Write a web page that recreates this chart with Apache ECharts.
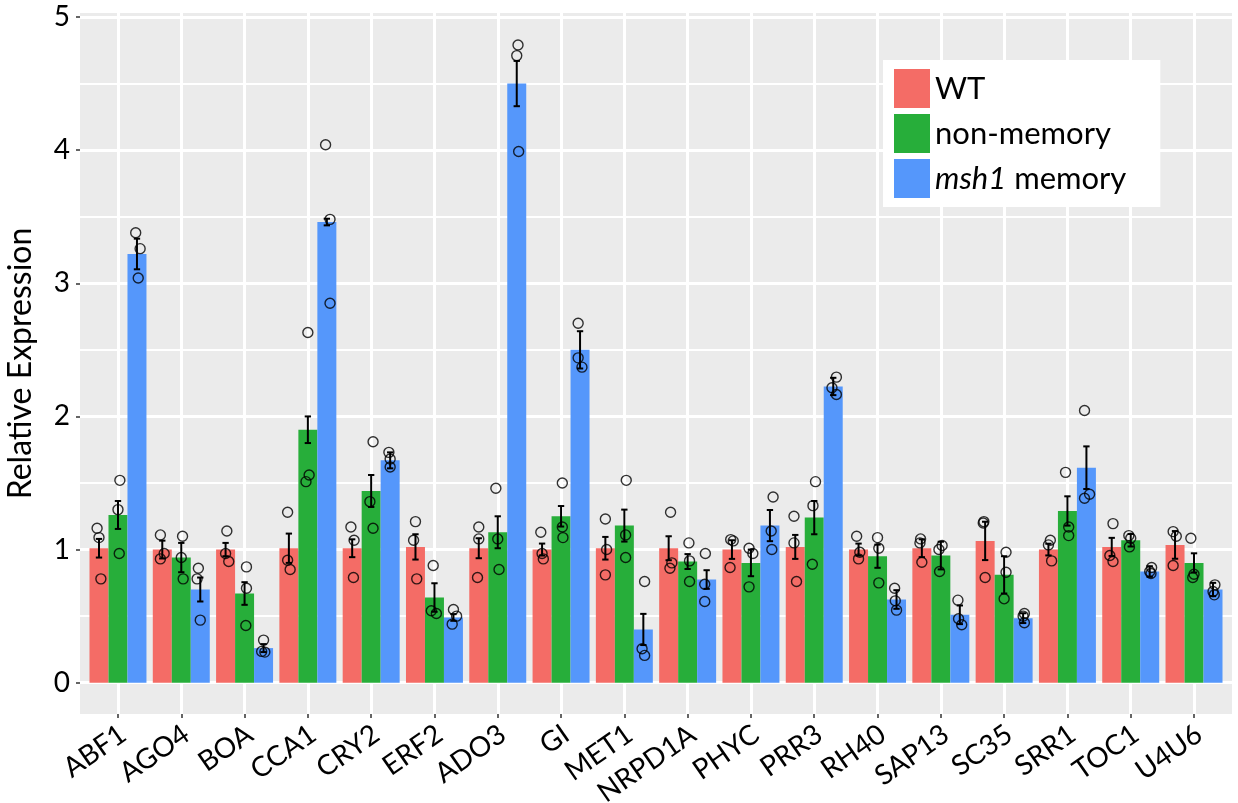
<!DOCTYPE html>
<html><head><meta charset="utf-8">
<script src="https://cdn.jsdelivr.net/npm/echarts@6/dist/echarts.min.js"></script>
<style>html,body{margin:0;padding:0;background:#fff}#c{width:1238px;height:803px}</style>
</head><body><div id="c"></div>
<script>
const categories = ['ABF1','AGO4','BOA','CCA1','CRY2','ERF2','ADO3','GI','MET1','NRPD1A','PHYC','PRR3','RH40','SAP13','SC35','SRR1','TOC1','U4U6'];
const seriesNames = ['WT','non-memory','msh1 memory'];
const yTickValues = [0,1,2,3,4,5];
const yMinorValues = [0.5,1.5,2.5,3.5,4.5];

const wtMean = [1.01,1.00,1.00,1.01,1.01,1.02,1.01,1.00,1.01,1.01,1.00,1.02,1.00,1.01,1.065,1.00,1.02,1.035];
const wtErr  = [0.07,0.067,0.05,0.11,0.067,0.095,0.075,0.045,0.085,0.09,0.07,0.09,0.045,0.067,0.144,0.044,0.068,0.104];
const wtPts = [[1.16,1.09,0.78],[1.11,0.97,0.93],[1.14,0.97,0.91],[1.28,0.92,0.85],[1.17,1.07,0.79],[1.21,1.07,0.78],
  [1.17,1.08,0.79],[1.13,0.97,0.93],[1.23,1.00,0.81],[1.28,0.90,0.86],[1.075,1.065,0.865],[1.25,1.05,0.76],
  [1.10,0.98,0.93],[1.08,1.05,0.905],[1.21,1.20,0.79],[1.07,1.035,0.915],[1.195,0.955,0.91],[1.135,1.10,0.88]];
const wtJit = [[-0.03,0,0.03],[-0.03,0.03,-0.03],[0.02,0,0.05],[-0.02,-0.02,0.02],[-0.02,0.03,0.02],[0,-0.03,0.02],
  [0,0,-0.02],[-0.02,0,0.02],[0,0.02,0],[0.03,0.05,0.02],[-0.02,0.02,-0.03],[-0.02,-0.02,0.02],
  [-0.03,0.02,0],[-0.02,-0.03,0],[-0.02,-0.03,0],[0.03,0,0.05],[0.02,-0.03,0.02],[-0.03,0.02,-0.03]];

const nmMean = [1.26,0.94,0.67,1.90,1.44,0.64,1.13,1.25,1.18,0.91,0.90,1.24,0.95,0.955,0.81,1.29,1.07,0.90];
const nmErr  = [0.105,0.11,0.085,0.10,0.12,0.107,0.12,0.077,0.12,0.056,0.10,0.125,0.087,0.104,0.14,0.11,0.047,0.072];
const nmPts = [[1.52,1.30,0.97],[1.10,0.94,0.78],[0.87,0.71,0.43],[2.63,1.56,1.51],[1.81,1.36,1.16],[0.88,0.54,0.52],
  [1.46,1.08,0.85],[1.50,1.17,1.09],[1.52,1.11,0.94],[1.05,0.915,0.76],[1.01,0.97,0.72],[1.51,1.33,0.89],
  [1.09,1.01,0.75],[1.03,1.00,0.835],[0.98,0.83,0.63],[1.58,1.17,1.105],[1.105,1.085,1.02],[1.085,0.815,0.79]];
const nmJit = [[0.03,0,0.02],[0.02,0,0.03],[0.03,0.03,0.02],[0,0.02,-0.03],[0.03,-0.02,0.03],[-0.02,-0.05,0.03],
  [-0.03,0,0.02],[0.02,0.02,0.03],[0.03,0.02,0.02],[0.02,0.03,0.03],[-0.03,0.03,-0.03],[0.02,-0.02,-0.03],
  [0,0.02,0.02],[0.02,-0.03,-0.02],[0.03,0.03,0],[-0.03,0.02,0.02],[-0.03,0,-0.02],[-0.05,0,-0.02]];

const mshMean = [3.22,0.70,0.26,3.46,1.67,0.49,4.50,2.50,0.40,0.775,1.18,2.225,0.625,0.51,0.485,1.615,0.835,0.70];
const mshErr  = [0.115,0.09,0.03,0.025,0.06,0.025,0.17,0.14,0.117,0.07,0.117,0.065,0.07,0.07,0.037,0.16,0.04,0.05];
const mshPts = [[3.38,3.26,3.04],[0.86,0.78,0.47],[0.32,0.235,0.23],[4.04,3.48,2.85],[1.73,1.68,1.62],[0.55,0.50,0.44],
  [4.79,4.71,3.99],[2.70,2.44,2.37],[0.76,0.255,0.205],[0.97,0.74,0.61],[1.395,1.14,1.00],[2.295,2.215,2.165],
  [0.71,0.615,0.545],[0.62,0.48,0.435],[0.52,0.50,0.45],[2.045,1.415,1.385],[0.865,0.835,0.82],[0.735,0.685,0.66]];
const mshJit = [[-0.02,0.05,0.02],[-0.03,-0.05,0],[0,-0.03,0.02],[-0.02,0.05,0.05],[-0.02,0,0],[0,0.05,-0.02],
  [0.02,0,0.03],[-0.03,-0.03,0.03],[0.02,-0.02,0.02],[-0.02,-0.03,-0.03],[0.05,0.02,0.03],[0.05,-0.02,0.05],
  [-0.03,-0.02,0],[-0.03,-0.02,0.03],[0.02,0,0.02],[-0.03,0.05,-0.03],[0.03,0,0.02],[0.03,0,0.02]];

const colors = ['#F46C66','#27AE3A','#5597FB'];
const FONT = 'Lato';
const groups = [
  {name: seriesNames[0], mean: wtMean, err: wtErr, pts: wtPts, jit: wtJit},
  {name: seriesNames[1], mean: nmMean, err: nmErr, pts: nmPts, jit: nmJit},
  {name: seriesNames[2], mean: mshMean, err: mshErr, pts: mshPts, jit: mshJit}
];
const dodge = [-0.3, 0, 0.3];
const barHalf = 0.15, capHalf = 0.05;
const catIdx = categories.map((c, i) => i);

const series = [];
groups.forEach((g, k) => {
  series.push({
    name: g.name, type: 'custom', z: 2, silent: true,
    itemStyle: {color: colors[k]},
    encode: {x: 0, y: 1},
    data: g.mean.map((m, i) => [i + dodge[k], m]),
    renderItem: (params, api) => {
      const x = api.value(0), v = api.value(1);
      const a = api.coord([x - barHalf, v]), b = api.coord([x + barHalf, 0]);
      return {type: 'rect', shape: {x: a[0], y: a[1], width: b[0] - a[0], height: b[1] - a[1]}, style: {fill: colors[k]}};
    }
  });
});
groups.forEach((g, k) => {
  series.push({
    type: 'custom', z: 3, silent: true,
    encode: {x: 0, y: [1, 2]},
    data: g.mean.map((m, i) => [i + dodge[k], m - g.err[i], m + g.err[i]]),
    renderItem: (params, api) => {
      const x = api.value(0);
      const pl = api.coord([x, api.value(1)]), ph = api.coord([x, api.value(2)]);
      const cw = api.size([capHalf, 0])[0];
      const st = {stroke: '#000', lineWidth: 2};
      return {type: 'group', children: [
        {type: 'line', shape: {x1: pl[0], y1: pl[1], x2: ph[0], y2: ph[1]}, style: st},
        {type: 'line', shape: {x1: pl[0] - cw, y1: pl[1], x2: pl[0] + cw, y2: pl[1]}, style: st},
        {type: 'line', shape: {x1: ph[0] - cw, y1: ph[1], x2: ph[0] + cw, y2: ph[1]}, style: st}
      ]};
    }
  });
});
groups.forEach((g, k) => {
  const d = [];
  g.pts.forEach((arr, i) => arr.forEach((v, j) => d.push([i + dodge[k] + g.jit[i][j], v])));
  series.push({
    type: 'scatter', z: 4, silent: true, symbol: 'circle', symbolSize: 10,
    itemStyle: {color: 'rgba(0,0,0,0)', borderColor: '#000', borderWidth: 1.4},
    data: d
  });
});

const chart = echarts.init(document.getElementById('c'), null, {renderer: 'canvas'});
chart.setOption({
  animation: false,
  backgroundColor: '#fff',
  grid: {left: 80, right: 6, top: 13, bottom: 89, show: true, backgroundColor: '#EBEBEB', borderWidth: 0,
    containLabel: false, outerBoundsMode: 'none'},
  legend: {
    left: 883, top: 60, orient: 'vertical', selectedMode: false,
    backgroundColor: '#fff', padding: [9, 34, 9, 11],
    itemWidth: 36, itemHeight: 39, itemGap: 6, icon: 'rect',
    data: groups.map((g, k) => ({name: g.name, itemStyle: {color: colors[k]}})),
    textStyle: {fontFamily: FONT, fontSize: 31, color: '#000',
      rich: {i: {fontStyle: 'italic', fontFamily: FONT, fontSize: 31, color: '#000'},
             n: {fontFamily: FONT, fontSize: 31, color: '#000'}}},
    formatter: name => name === 'msh1 memory' ? '{i|msh1} {n|memory}' : name
  },
  xAxis: {
    type: 'value', min: -0.6, max: 17.6,
    axisLine: {show: false, onZero: false},
    axisTick: {show: true, length: 4, lineStyle: {color: '#333', width: 1.5}, customValues: catIdx},
    axisLabel: {customValues: catIdx, formatter: v => '{a|' + categories[Math.round(v)] + '}', rotate: 35, margin: 10,
      fontFamily: FONT, fontSize: 28, color: '#000',
      rich: {a: {fontFamily: FONT, fontSize: 28, color: '#000', padding: [18, 0, 0, 0]}}},
    splitLine: {show: true, lineStyle: {color: '#fff', width: 3}}
  },
  yAxis: [
    {
      type: 'value', min: -0.235, max: 5.03,
      axisLine: {show: false, onZero: false},
      axisTick: {show: true, length: 4, lineStyle: {color: '#333', width: 1.5}, customValues: yTickValues},
      axisLabel: {customValues: yTickValues, margin: 10, fontFamily: FONT, fontSize: 28, color: '#000'},
      splitLine: {show: true, lineStyle: {color: '#fff', width: 3}},
      name: 'Relative Expression', nameLocation: 'middle', nameGap: 43,
      nameTextStyle: {fontFamily: FONT, fontSize: 32, color: '#000'}
    },
    {
      type: 'value', min: -0.235, max: 5.03, position: 'right',
      axisLine: {show: false, onZero: false},
      axisTick: {show: false, customValues: yMinorValues},
      axisLabel: {show: false, customValues: yMinorValues},
      splitLine: {show: true, lineStyle: {color: '#fff', width: 2}}
    }
  ],
  series: series
});
</script></body></html>
